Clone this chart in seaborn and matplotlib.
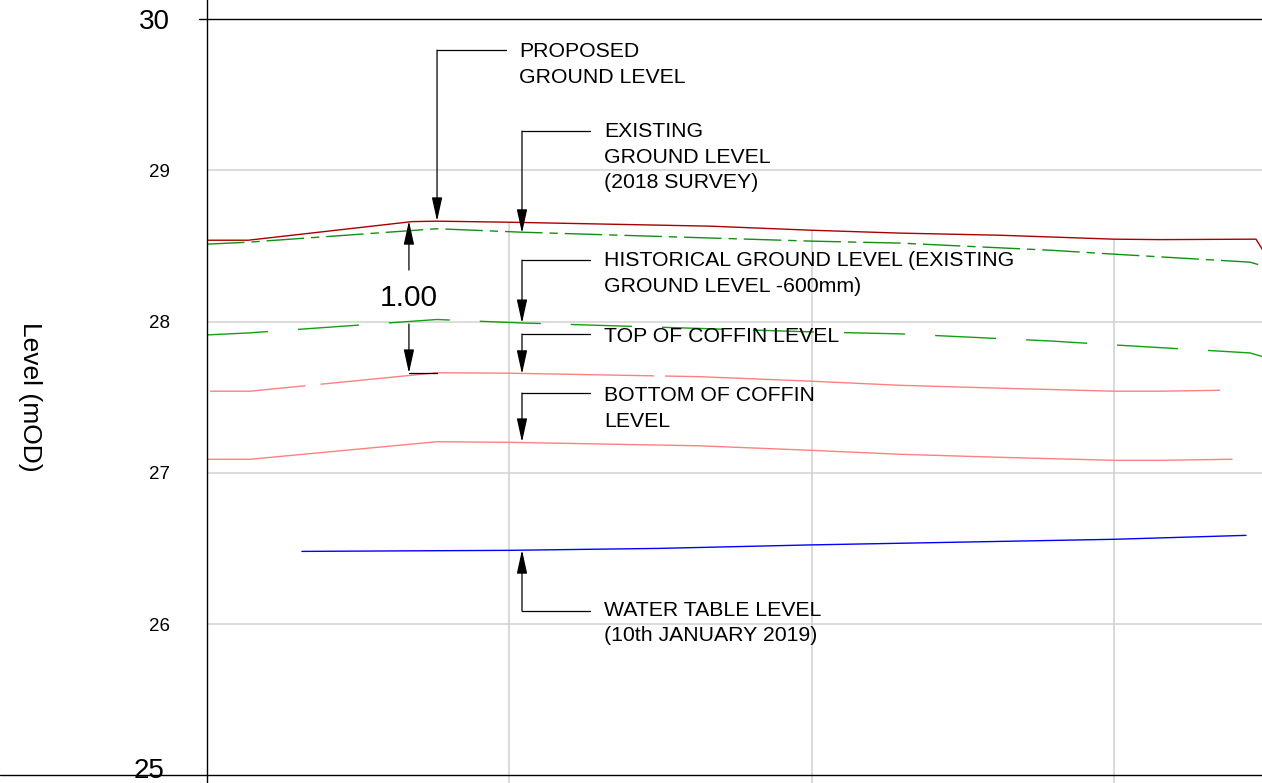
import numpy as np
import matplotlib
matplotlib.use("Agg")
import matplotlib.pyplot as plt
import seaborn as sns

pgl_ch = [0.0, 1.36, 6.78, 7.61, 10.0, 16.64, 20.0, 22.92, 26.23, 30.0, 31.53, 34.70, 34.97]
pgl_lv = [28.538, 28.538, 28.661, 28.664, 28.657, 28.631, 28.604, 28.585, 28.571, 28.545, 28.542, 28.545, 28.459]

egl_ch = [0.0, 1.36, 7.61, 10.42, 20.0, 22.92, 27.89, 30.0, 34.50, 34.97]
egl_lv = [28.512, 28.525, 28.614, 28.591, 28.532, 28.519, 28.472, 28.446, 28.393, 28.366]

hist_ch = [0.0, 1.36, 7.61, 10.42, 20.0, 22.92, 27.89, 30.0, 34.50, 34.97]
hist_lv = [27.912, 27.925, 28.014, 27.991, 27.932, 27.919, 27.872, 27.846, 27.793, 27.766]

toc_ch = [0.1, 1.42, 7.61, 10.0, 16.28, 20.0, 22.92, 26.23, 30.0, 31.53, 33.51]
toc_lv = [27.540, 27.540, 27.662, 27.659, 27.636, 27.606, 27.579, 27.560, 27.540, 27.540, 27.546]

boc_ch = [0.0, 1.42, 7.61, 10.0, 16.28, 20.0, 22.92, 26.23, 30.0, 31.53, 33.91]
boc_lv = [27.090, 27.090, 27.206, 27.202, 27.179, 27.149, 27.123, 27.103, 27.083, 27.083, 27.090]

wt_ch = [3.14, 10.0, 14.99, 20.0, 30.0, 34.37]
wt_lv = [26.481, 26.488, 26.501, 26.524, 26.561, 26.587]

level_ticks = [25, 26, 27, 28, 29, 30]
section_lines = [10, 20, 30]

sns.set_style("white")
plt.rcParams['font.family'] = ['Liberation Sans', 'DejaVu Sans']
plt.rcParams['text.color'] = 'k'

fig = plt.figure(figsize=(12.62, 7.83), dpi=100)
ax = fig.add_axes([207 / 1262, 0, 1055 / 1262, 1])
ax.set_xlim(0, 34.90)
ax.set_ylim(24.950, 30.126)

# grid
for lv in [26, 27, 28, 29]:
    ax.axhline(lv, color='#d2d2d2', lw=1.1, zorder=0)
for ch in section_lines:
    top = np.interp(ch, pgl_ch, pgl_lv)
    ax.vlines(ch, 24.9, top, color='#cfcfcf', lw=1.1, zorder=0)

ax.axhline(30, xmin=-8 / 1055, xmax=1, color='k', lw=1, clip_on=False)
ax.axhline(25, xmin=-207 / 1055, xmax=1, color='k', lw=1, clip_on=False)

# section lines
sns.lineplot(x=pgl_ch, y=pgl_lv, ax=ax, color='#a80000', lw=1.0, sort=False, estimator=None)
sns.lineplot(x=egl_ch, y=egl_lv, ax=ax, color='#109010', lw=1.0, sort=False, estimator=None)
ax.lines[-1].set_dashes([27, 5, 6, 5])
sns.lineplot(x=hist_ch, y=hist_lv, ax=ax, color='#10a010', lw=1.0, sort=False, estimator=None)
ax.lines[-1].set_dashes([44, 21.6])
sns.lineplot(x=toc_ch, y=toc_lv, ax=ax, color='#ff8080', lw=1.0, sort=False, estimator=None)
ax.lines[-1].set_dashes([69, 10.8, 240.5, 7.9, 800, 1])
sns.lineplot(x=boc_ch, y=boc_lv, ax=ax, color='#ff8080', lw=1.0, sort=False, estimator=None)
sns.lineplot(x=wt_ch, y=wt_lv, ax=ax, color='#0000ff', lw=1.0, sort=False, estimator=None)

# axis styling
for s in ['top', 'right', 'bottom']:
    ax.spines[s].set_visible(False)
ax.spines['left'].set_color('k')
ax.spines['left'].set_linewidth(1)
ax.set_xticks([])
ax.set_yticks(level_ticks)
ax.set_yticklabels([str(t) if t != 25 else '' for t in level_ticks])
ax.tick_params(axis='y', direction='inout', length=28, width=1, color='#606060', pad=13, labelcolor='k')
for t, lab, tk in zip(level_ticks, ax.get_yticklabels(), ax.yaxis.get_major_ticks()):
    if t in (25, 30):
        lab.set_fontsize(20)
        tk.tick1line.set_visible(False)
    else:
        lab.set_fontsize(13.5)
# bottom level label sits on the frame edge
ax.text(-1.39, 25.03, "25", fontsize=20, ha='right', va='center', clip_on=False)

fig.text(30 / 1262, 1 - 397 / 783, "Level (mOD)", rotation=270, fontsize=19,
         ha='center', va='center')


def leader(x_tip, y_tip, y_bar, x_end):
    ax.plot([x_tip, x_end], [y_bar, y_bar], color='k', lw=0.9)
    ax.annotate('', xy=(x_tip, y_tip), xytext=(x_tip, y_bar),
                arrowprops=dict(arrowstyle='-|>,head_length=1.45,head_width=0.32',
                                color='k', lw=0.9, shrinkA=0, shrinkB=0,
                                mutation_scale=10))


lab_kw = dict(fontsize=15.3, ha='left', va='top', linespacing=1.43, color='k')

leader(7.61, 28.665, 29.795, 9.89)
ax.text(10.32, 29.848, "PROPOSED\nGROUND LEVEL", **lab_kw)

leader(10.42, 28.586, 29.260, 12.67)
ax.text(13.13, 29.319, "EXISTING\nGROUND LEVEL\n(2018 SURVEY)", **lab_kw)

leader(10.42, 27.990, 28.407, 12.67)
ax.text(13.13, 28.466, "HISTORICAL GROUND LEVEL (EXISTING\nGROUND LEVEL -600mm)", **lab_kw)

leader(10.42, 27.654, 27.918, 12.67)
ax.text(13.13, 27.964, "TOP OF COFFIN LEVEL", **lab_kw)

leader(10.42, 27.204, 27.528, 12.67)
ax.text(13.13, 27.574, "BOTTOM OF COFFIN\nLEVEL", **lab_kw)

leader(10.42, 26.490, 26.087, 12.67)
ax.text(13.13, 26.153, "WATER TABLE LEVEL\n(10th JANUARY 2019)", **lab_kw)

# 1.00 dimension
dim_x = 6.68
ax.annotate('', xy=(dim_x, 28.665), xytext=(dim_x, 28.341),
            arrowprops=dict(arrowstyle='-|>,head_length=1.45,head_width=0.32',
                            color='k', lw=0.9, shrinkA=0, shrinkB=0, mutation_scale=10))
ax.annotate('', xy=(dim_x, 27.660), xytext=(dim_x, 27.984),
            arrowprops=dict(arrowstyle='-|>,head_length=1.45,head_width=0.32',
                            color='k', lw=0.9, shrinkA=0, shrinkB=0, mutation_scale=10))
ax.plot([dim_x, 7.61], [27.660, 27.660], color='k', lw=0.9)
ax.text(dim_x, 28.156, "1.00", fontsize=21.5, ha='center', va='center', color='k')

fig.savefig("out.png", dpi=100)
